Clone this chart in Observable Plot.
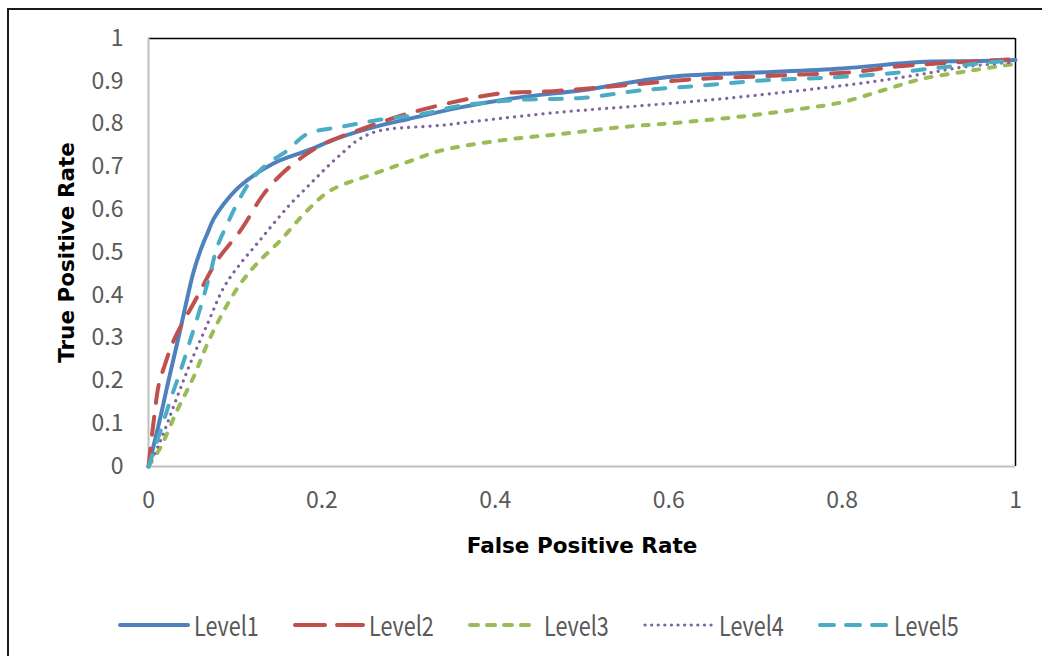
<!DOCTYPE html>
<html>
<head>
<meta charset="utf-8">
<script src="https://cdn.jsdelivr.net/npm/d3@7"></script>
<script src="https://cdn.jsdelivr.net/npm/@observablehq/plot@0.6"></script>
<style>
  html, body { margin: 0; padding: 0; background: #fff; width: 1042px; height: 656px; overflow: hidden; }
  body { position: relative; font-family: "Noto Sans CJK KR", "Noto Sans", sans-serif; }
  #border { position: absolute; left: 7px; top: 8px; width: 1100px; height: 700px; border: 2px solid #1a1a1a; box-sizing: border-box; }
  #chart { position: absolute; left: 0; top: 0; }
  #legend { position: absolute; left: 117px; top: 607px; height: 36px; display: flex; align-items: center; }
  .item { display: flex; align-items: center; width: 175px; }
  .item svg { margin-right: 3px; }
  .item span { display: inline-block; font-size: 27px; line-height: 36px; color: #595959; transform: scaleX(0.8); transform-origin: left center; }
</style>
</head>
<body>
<div id="border"></div>
<div id="chart"></div>
<div id="legend"></div>
<script>
const seriesNames = ["Level1", "Level2", "Level3", "Level4", "Level5"];
const seriesColors = ["#4f81bd", "#c0504d", "#9bbb59", "#8064a2", "#4bacc6"];
const seriesDash = [null, "18,14", "6,10", "0.1,7", "12,14"];
const legendDash = [null, "30,12", "8,9", "0.1,6.5", "14,12"];
const seriesWidth = [4, 4, 4, 3.2, 4];

const xTicks = [0, 0.2, 0.4, 0.6, 0.8, 1];
const yTicks = [0, 0.1, 0.2, 0.3, 0.4, 0.5, 0.6, 0.7, 0.8, 0.9, 1];

const level1X = [0, 0.012, 0.023, 0.035, 0.045, 0.052, 0.06, 0.068, 0.075, 0.087, 0.106, 0.144, 0.183, 0.221, 0.26, 0.30, 0.36, 0.43, 0.50, 0.57, 0.615, 0.71, 0.80, 0.89, 0.95, 1];
const level1Y = [0, 0.10, 0.20, 0.305, 0.396, 0.455, 0.505, 0.545, 0.578, 0.614, 0.656, 0.708, 0.738, 0.769, 0.793, 0.812, 0.839, 0.863, 0.879, 0.902, 0.913, 0.921, 0.930, 0.945, 0.947, 0.95];

const level2X = [0, 0.006, 0.012, 0.018, 0.029, 0.056, 0.079, 0.106, 0.133, 0.156, 0.183, 0.202, 0.241, 0.298, 0.36, 0.407, 0.467, 0.522, 0.578, 0.638, 0.699, 0.754, 0.81, 0.866, 0.921, 1];
const level2Y = [0, 0.107, 0.193, 0.232, 0.294, 0.396, 0.481, 0.551, 0.637, 0.688, 0.731, 0.754, 0.785, 0.824, 0.855, 0.872, 0.877, 0.886, 0.896, 0.906, 0.911, 0.916, 0.921, 0.935, 0.943, 0.952];

const level3X = [0, 0.014, 0.033, 0.052, 0.068, 0.087, 0.106, 0.125, 0.152, 0.183, 0.21, 0.26, 0.298, 0.337, 0.407, 0.476, 0.546, 0.615, 0.685, 0.754, 0.80, 0.847, 0.893, 0.949, 1];
const level3Y = [0, 0.045, 0.131, 0.209, 0.287, 0.364, 0.427, 0.474, 0.528, 0.598, 0.645, 0.684, 0.711, 0.738, 0.762, 0.777, 0.793, 0.804, 0.818, 0.836, 0.851, 0.879, 0.906, 0.925, 0.941];

const level4X = [0, 0.014, 0.033, 0.048, 0.068, 0.087, 0.106, 0.125, 0.144, 0.164, 0.183, 0.202, 0.221, 0.241, 0.26, 0.28, 0.337, 0.383, 0.476, 0.569, 0.661, 0.754, 0.824, 0.893, 0.939, 1];
const level4Y = [0, 0.061, 0.162, 0.24, 0.333, 0.419, 0.474, 0.52, 0.567, 0.614, 0.653, 0.692, 0.728, 0.762, 0.781, 0.789, 0.797, 0.808, 0.828, 0.843, 0.859, 0.879, 0.896, 0.917, 0.933, 0.945];

const level5X = [0, 0.014, 0.025, 0.037, 0.048, 0.06, 0.072, 0.079, 0.091, 0.106, 0.118, 0.137, 0.16, 0.183, 0.221, 0.26, 0.317, 0.36, 0.43, 0.499, 0.569, 0.638, 0.708, 0.777, 0.847, 0.917, 0.986, 1];
const level5Y = [0, 0.084, 0.154, 0.224, 0.294, 0.372, 0.458, 0.512, 0.567, 0.629, 0.668, 0.707, 0.738, 0.777, 0.793, 0.808, 0.824, 0.843, 0.857, 0.861, 0.879, 0.89, 0.902, 0.908, 0.917, 0.933, 0.947, 0.948];

const allX = [level1X, level2X, level3X, level4X, level5X];
const allY = [level1Y, level2Y, level3Y, level4Y, level5Y];

const lineMarks = seriesNames.map((name, i) => {
  const data = allX[i].map((x, j) => ({x, y: allY[i][j]}));
  return Plot.line(data, {
    x: "x", y: "y", curve: "catmull-rom",
    stroke: seriesColors[i], strokeWidth: seriesWidth[i],
    strokeDasharray: seriesDash[i] || undefined,
    strokeLinecap: "round", strokeLinejoin: "round"
  });
});

const titleFont = '"DejaVu Sans", "Noto Sans", sans-serif';

const chart = Plot.plot({
  width: 1042,
  height: 580,
  marginLeft: 148,
  marginRight: 27,
  marginTop: 38,
  marginBottom: 114,
  style: { fontFamily: '"Noto Sans CJK KR", "Noto Sans", sans-serif', background: "transparent", overflow: "visible" },
  x: { domain: [0, 1] },
  y: { domain: [0, 1] },
  marks: [
    Plot.ruleY([1], { stroke: "#000", strokeWidth: 1.5 }),
    Plot.ruleX([1], { stroke: "#000", strokeWidth: 1.5 }),
    Plot.ruleX([0], { stroke: "#bfbfbf", strokeWidth: 2 }),
    Plot.ruleY([0], { stroke: "#bfbfbf", strokeWidth: 2 }),
    Plot.axisX(xTicks, { tickSize: 0, tickPadding: 25, fontSize: 23, color: "#595959", label: null, tickFormat: d => String(d) }),
    Plot.axisY(yTicks, { tickSize: 0, tickPadding: 25, fontSize: 23, color: "#595959", label: null, tickFormat: d => String(d) }),
    ...lineMarks,
    Plot.text(["False Positive Rate"], { frameAnchor: "bottom", dy: 80, text: d => d, textAnchor: "middle", lineAnchor: "middle", fontSize: 21.5, fontWeight: "bold", fontFamily: titleFont, fill: "#000" }),
    Plot.text(["True Positive Rate"], { frameAnchor: "left", dx: -81, rotate: -90, text: d => d, textAnchor: "middle", lineAnchor: "middle", fontSize: 21.5, fontWeight: "bold", fontFamily: titleFont, fill: "#000" })
  ]
});
document.getElementById("chart").appendChild(chart);

const legend = document.getElementById("legend");
seriesNames.forEach((name, i) => {
  const item = document.createElement("div");
  item.className = "item";
  const ns = "http://www.w3.org/2000/svg";
  const svg = document.createElementNS(ns, "svg");
  svg.setAttribute("width", 74);
  svg.setAttribute("height", 10);
  const ln = document.createElementNS(ns, "line");
  ln.setAttribute("x1", 3); ln.setAttribute("x2", 71);
  ln.setAttribute("y1", 5); ln.setAttribute("y2", 5);
  ln.setAttribute("stroke", seriesColors[i]);
  ln.setAttribute("stroke-width", seriesWidth[i]);
  ln.setAttribute("stroke-linecap", "round");
  if (legendDash[i]) ln.setAttribute("stroke-dasharray", legendDash[i]);
  svg.appendChild(ln);
  const span = document.createElement("span");
  span.textContent = name;
  item.appendChild(svg);
  item.appendChild(span);
  legend.appendChild(item);
});
</script>
</body>
</html>
